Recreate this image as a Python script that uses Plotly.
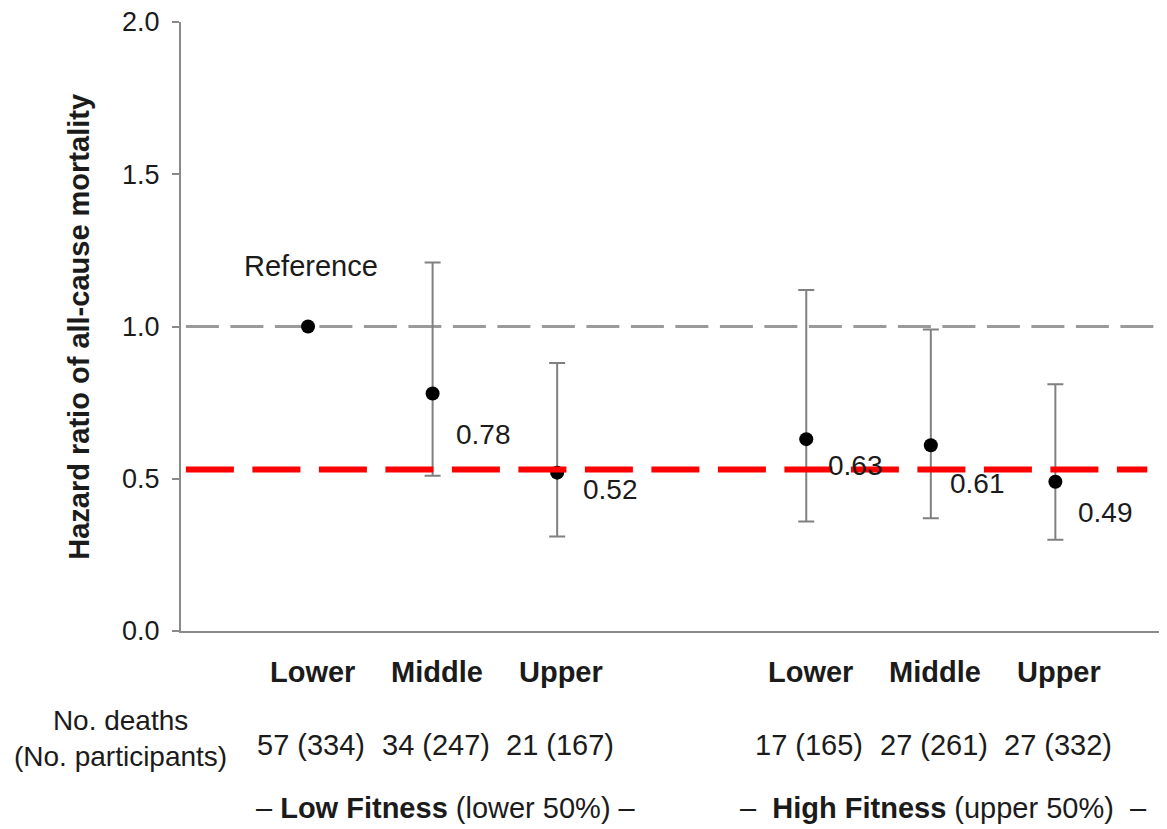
import plotly.graph_objects as go

# ---- data ----
groups = ["Low Fitness", "Low Fitness", "Low Fitness", "High Fitness", "High Fitness", "High Fitness"]
categories = ["Lower", "Middle", "Upper", "Lower", "Middle", "Upper"]
x_pos = [1, 2, 3, 5, 6, 7]
hr = [1.00, 0.78, 0.52, 0.63, 0.61, 0.49]
ci_low = [None, 0.51, 0.31, 0.36, 0.37, 0.30]
ci_high = [None, 1.21, 0.88, 1.12, 0.99, 0.81]
value_labels = ["Reference", "0.78", "0.52", "0.63", "0.61", "0.49"]
counts = ["57 (334)", "34 (247)", "21 (167)", "17 (165)", "27 (261)", "27 (332)"]
reference_hr = 1.0
mean_hr_line = 0.53
group_labels = ["– <b>Low Fitness</b> (lower 50%) –",
                "–&nbsp; <b>High Fitness</b> (upper 50%) &nbsp;–"]
group_centers = [2, 6]
y_ticks = [0.0, 0.5, 1.0, 1.5, 2.0]

FONT = "Arial, Liberation Sans, sans-serif"
TXT = "#1b1b1b"
AX = "#8a8a8a"
FS = 28

fig = go.Figure()

# reference line at HR = 1
fig.add_shape(type="line", xref="paper", yref="y", x0=0.005, x1=0.995,
              y0=reference_hr, y1=reference_hr,
              line=dict(color="#9a9a9a", width=3, dash="33px,11.5px"), layer="below")
# red dashed line
fig.add_shape(type="line", xref="paper", yref="y", x0=0.005, x1=0.987,
              y0=mean_hr_line, y1=mean_hr_line,
              line=dict(color="#ff0000", width=6, dash="48px,18.5px"), layer="above")

# points with CI
idx = [i for i in range(len(hr)) if ci_low[i] is not None]
fig.add_trace(go.Scatter(
    x=[x_pos[i] for i in idx], y=[hr[i] for i in idx], mode="markers",
    marker=dict(color="black", size=14),
    error_y=dict(type="data", symmetric=False,
                 array=[ci_high[i] - hr[i] for i in idx],
                 arrayminus=[hr[i] - ci_low[i] for i in idx],
                 color="#808080", thickness=2, width=8),
    showlegend=False, hoverinfo="skip"))
# reference point
ref_idx = [i for i in range(len(hr)) if ci_low[i] is None]
fig.add_trace(go.Scatter(
    x=[x_pos[i] for i in ref_idx], y=[hr[i] for i in ref_idx], mode="markers",
    marker=dict(color="black", size=14), showlegend=False, hoverinfo="skip"))

# value labels
label_shift = [(3, 61), (21, -41), (24, -17), (20, -26), (17, -38), (21, -31)]
for i, lab in enumerate(value_labels):
    dx, dy = label_shift[i]
    fig.add_annotation(x=x_pos[i], y=hr[i], text=lab, showarrow=False,
                       xanchor="center" if i == 0 else "left", yanchor="middle",
                       xshift=dx, yshift=dy,
                       font=dict(family=FONT, size=FS if i else FS + 1, color=TXT))

# category labels and counts below the axis
for i in range(len(categories)):
    fig.add_annotation(x=x_pos[i], y=-0.067, xref="x", yref="paper",
                       text="<b>%s</b>" % categories[i], showarrow=False,
                       xanchor="center", yanchor="middle", xshift=4,
                       font=dict(family=FONT, size=29, color=TXT))
    fig.add_annotation(x=x_pos[i], y=-0.187, xref="x", yref="paper",
                       text=counts[i], showarrow=False,
                       xanchor="center", yanchor="middle", xshift=3,
                       font=dict(family=FONT, size=29, color=TXT))

fig.add_annotation(x=-0.062, y=-0.177, xref="paper", yref="paper",
                   text="No. deaths<br>(No. participants)", showarrow=False,
                   xanchor="center", yanchor="middle", align="center",
                   font=dict(family=FONT, size=FS, color=TXT))

for g, c in zip(group_labels, group_centers):
    fig.add_annotation(x=c, y=-0.291, xref="x", yref="paper", text=g,
                       showarrow=False, xanchor="center", yanchor="middle",
                       xshift=13,
                       font=dict(family=FONT, size=29, color=TXT))

# y-axis title
fig.add_annotation(x=-0.105, y=0.5, xref="paper", yref="paper",
                   text="<b>Hazard ratio of all-cause mortality</b>",
                   textangle=-90, showarrow=False, xanchor="center", yanchor="middle",
                   font=dict(family=FONT, size=29, color=TXT))

fig.update_layout(
    width=1167, height=829,
    margin=dict(l=173, r=15, t=14, b=206, autoexpand=False),
    paper_bgcolor="white", plot_bgcolor="white",
    xaxis=dict(range=[-0.02, 7.84], showgrid=False, zeroline=False,
               showticklabels=False, ticks="", showline=True,
               linecolor=AX, linewidth=2, automargin=False),
    yaxis=dict(range=[0, 2.0], tickvals=y_ticks,
               ticktext=["%.1f" % v for v in y_ticks],
               showgrid=False, zeroline=False, showline=True,
               linecolor=AX, linewidth=2, ticks="outside", ticklen=7,
               tickcolor=AX, tickwidth=2, ticklabelstandoff=7,
               ticklabeloverflow="allow", automargin=False,
               tickfont=dict(family=FONT, size=27, color=TXT)),
)

fig.write_html("out.html")
